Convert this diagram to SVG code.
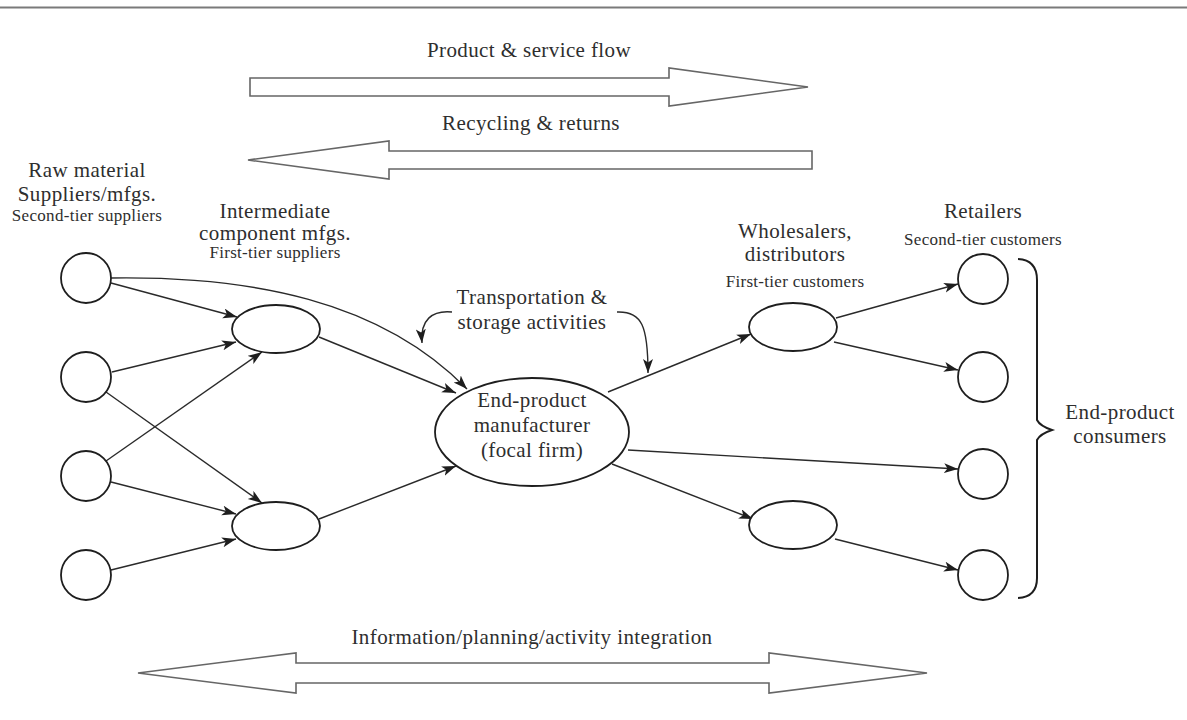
<svg xmlns="http://www.w3.org/2000/svg" width="1187" height="720" viewBox="0 0 1187 720">
<style>
.bg{fill:#ffffff}
.t{font-family:"Liberation Serif","Times New Roman",serif;fill:#2e2e2e;text-anchor:middle}
.lg{font-size:21px;letter-spacing:0.4px}
.sm{font-size:17px;letter-spacing:0.3px}
.nd{fill:#ffffff;stroke:#1e1e1e;stroke-width:1.8}
.ed{fill:none;stroke:#2a2a2a;stroke-width:1.4;marker-end:url(#ah)}
.big{fill:#ffffff;stroke:#666666;stroke-width:1.6;stroke-linejoin:miter}
.br{fill:none;stroke:#1e1e1e;stroke-width:2}
</style>
<defs>
<marker id="ah" markerUnits="userSpaceOnUse" markerWidth="16" markerHeight="12" refX="14" refY="5" orient="auto">
<path d="M0,0 L14,5 L0,10 L3.5,5 Z" fill="#1e1e1e"/>
</marker>
</defs>
<rect class="bg" x="0" y="0" width="1187" height="720"/>
<line x1="0" y1="7.5" x2="1187" y2="7.5" stroke="#7a7a7a" stroke-width="2"/>

<g id="flow-arrows">
<text class="t lg" x="529" y="57">Product &amp; service flow</text>
<path class="big" d="M250,78 L669,78 L669,68 L808,87 L669,106 L669,96 L250,96 Z"/>
<text class="t lg" x="531" y="130">Recycling &amp; returns</text>
<path class="big" d="M812,151 L389,151 L389,141 L248,160 L389,179 L389,169 L812,169 Z"/>
<text class="t lg" x="532" y="644">Information/planning/activity integration</text>
<path class="big" d="M138,673 L296,653 L296,663 L769,663 L769,653 L927,673 L769,693 L769,683 L296,683 L296,693 Z"/>
</g>

<g id="labels">
<text class="t lg" x="87" y="177">Raw material</text>
<text class="t lg" x="87" y="201">Suppliers/mfgs.</text>
<text class="t sm" x="87" y="221">Second-tier suppliers</text>
<text class="t lg" x="275" y="218">Intermediate</text>
<text class="t lg" x="275" y="240">component mfgs.</text>
<text class="t sm" x="275" y="258">First-tier suppliers</text>
<text class="t lg" x="532" y="304">Transportation &amp;</text>
<text class="t lg" x="532" y="329">storage activities</text>
<text class="t lg" x="795" y="238">Wholesalers,</text>
<text class="t lg" x="795" y="261">distributors</text>
<text class="t sm" x="795" y="287">First-tier customers</text>
<text class="t lg" x="983" y="218">Retailers</text>
<text class="t sm" x="983" y="245">Second-tier customers</text>
<text class="t lg" x="1120" y="419">End-product</text>
<text class="t lg" x="1120" y="443">consumers</text>
</g>

<g id="connectors">
<path class="ed" d="M111,283 L237,317"/>
<path class="ed" d="M112,372 L236,342"/>
<path class="ed" d="M106,461 L262,352"/>
<path class="ed" d="M106,392 L262,503"/>
<path class="ed" d="M111,482 L236,514"/>
<path class="ed" d="M111,570 L236,539"/>
<path class="ed" d="M111,278 C250,276 380,300 467,389"/>
<path class="ed" d="M319,337 L456,393"/>
<path class="ed" d="M319,519 L456,466"/>
<path class="ed" d="M608,392 L751,334"/>
<path class="ed" d="M836,318 L958,284"/>
<path class="ed" d="M834,342 L958,370"/>
<path class="ed" d="M628,450 L958,469"/>
<path class="ed" d="M612,464 L753,519"/>
<path class="ed" d="M835,539 L958,570"/>
<path class="ed" d="M452,312 C432,310 420,320 422,343"/>
<path class="ed" d="M617,312 C642,311 648,326 648,373"/>
</g>

<g id="raw1"><circle class="nd" cx="86" cy="278" r="25"/></g>
<g id="raw2"><circle class="nd" cx="86" cy="377" r="25"/></g>
<g id="raw3"><circle class="nd" cx="86" cy="476" r="25"/></g>
<g id="raw4"><circle class="nd" cx="86" cy="575" r="25"/></g>
<g id="inter1"><ellipse class="nd" cx="276" cy="329" rx="44" ry="24"/></g>
<g id="inter2"><ellipse class="nd" cx="276" cy="526" rx="44" ry="24"/></g>
<g id="focal">
<ellipse class="nd" cx="532" cy="432" rx="97" ry="54"/>
<text class="t lg" x="532" y="407">End-product</text>
<text class="t lg" x="532" y="432">manufacturer</text>
<text class="t lg" x="532" y="457">(focal firm)</text>
</g>
<g id="whole1"><ellipse class="nd" cx="793" cy="327" rx="44" ry="24"/></g>
<g id="whole2"><ellipse class="nd" cx="793" cy="525" rx="44" ry="24"/></g>
<g id="ret1"><circle class="nd" cx="983" cy="279" r="25"/></g>
<g id="ret2"><circle class="nd" cx="983" cy="377" r="25"/></g>
<g id="ret3"><circle class="nd" cx="983" cy="474" r="25"/></g>
<g id="ret4"><circle class="nd" cx="983" cy="575" r="25"/></g>
<g id="brace">
<path class="br" d="M1018,259 Q1037,260 1037,280 L1037,420 Q1040,426 1052,430 Q1040,434 1037,440 L1037,578 Q1037,597 1018,598"/>
</g>
</svg>
